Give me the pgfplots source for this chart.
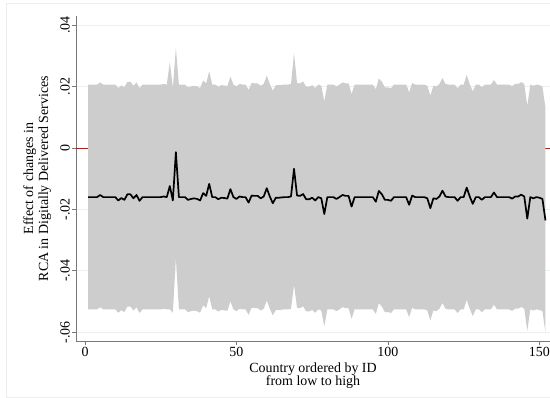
\documentclass[border=0pt]{standalone}
\usepackage{fontspec}
\setmainfont{Liberation Serif}
\usepackage{pgfplots}
\pgfplotsset{compat=1.18}
\usepackage{pgfplotstable}
\usepgfplotslibrary{fillbetween}
\definecolor{bandgray}{RGB}{205,205,205}
\definecolor{gridc}{RGB}{232,241,242}
\definecolor{axisc}{RGB}{120,120,120}

\pgfplotstableread{
i mean lo hi
1 -0.0160 -0.0525 0.0206
2 -0.0160 -0.0525 0.0206
3 -0.0160 -0.0525 0.0206
4 -0.0160 -0.0525 0.0206
5 -0.0153 -0.0518 0.0213
6 -0.0160 -0.0525 0.0206
7 -0.0160 -0.0525 0.0206
8 -0.0160 -0.0525 0.0206
9 -0.0160 -0.0525 0.0206
10 -0.0160 -0.0525 0.0206
11 -0.0171 -0.0536 0.0195
12 -0.0163 -0.0528 0.0203
13 -0.0169 -0.0534 0.0197
14 -0.0151 -0.0516 0.0215
15 -0.0151 -0.0516 0.0215
16 -0.0164 -0.0529 0.0202
17 -0.0153 -0.0518 0.0213
18 -0.0172 -0.0537 0.0194
19 -0.0160 -0.0525 0.0206
20 -0.0160 -0.0525 0.0206
21 -0.0160 -0.0525 0.0206
22 -0.0160 -0.0525 0.0206
23 -0.0160 -0.0525 0.0206
24 -0.0160 -0.0525 0.0206
25 -0.0160 -0.0525 0.0206
26 -0.0158 -0.0523 0.0208
27 -0.0160 -0.0525 0.0206
28 -0.0124 -0.0525 0.0279
29 -0.0171 -0.0536 0.0195
30 -0.0014 -0.0358 0.0325
31 -0.0160 -0.0525 0.0206
32 -0.0160 -0.0525 0.0206
33 -0.0160 -0.0525 0.0206
34 -0.0169 -0.0534 0.0197
35 -0.0166 -0.0531 0.0200
36 -0.0164 -0.0529 0.0202
37 -0.0166 -0.0531 0.0200
38 -0.0171 -0.0536 0.0195
39 -0.0147 -0.0512 0.0219
40 -0.0156 -0.0521 0.0210
41 -0.0117 -0.0482 0.0249
42 -0.0160 -0.0525 0.0206
43 -0.0160 -0.0525 0.0206
44 -0.0167 -0.0532 0.0199
45 -0.0162 -0.0527 0.0204
46 -0.0163 -0.0528 0.0203
47 -0.0165 -0.0530 0.0201
48 -0.0134 -0.0499 0.0232
49 -0.0160 -0.0525 0.0206
50 -0.0166 -0.0531 0.0200
51 -0.0158 -0.0523 0.0208
52 -0.0160 -0.0525 0.0206
53 -0.0160 -0.0525 0.0206
54 -0.0178 -0.0543 0.0188
55 -0.0155 -0.0520 0.0211
56 -0.0156 -0.0521 0.0210
57 -0.0156 -0.0521 0.0210
58 -0.0164 -0.0529 0.0202
59 -0.0158 -0.0523 0.0208
60 -0.0131 -0.0496 0.0235
61 -0.0158 -0.0523 0.0208
62 -0.0180 -0.0545 0.0186
63 -0.0162 -0.0527 0.0204
64 -0.0162 -0.0527 0.0204
65 -0.0161 -0.0526 0.0205
66 -0.0160 -0.0525 0.0206
67 -0.0160 -0.0525 0.0206
68 -0.0158 -0.0523 0.0208
69 -0.0068 -0.0446 0.0308
70 -0.0155 -0.0520 0.0211
71 -0.0156 -0.0521 0.0210
72 -0.0150 -0.0515 0.0216
73 -0.0167 -0.0532 0.0199
74 -0.0167 -0.0532 0.0199
75 -0.0162 -0.0527 0.0204
76 -0.0171 -0.0536 0.0195
77 -0.0160 -0.0525 0.0206
78 -0.0164 -0.0529 0.0202
79 -0.0215 -0.0580 0.0151
80 -0.0160 -0.0525 0.0206
81 -0.0160 -0.0525 0.0206
82 -0.0160 -0.0525 0.0206
83 -0.0166 -0.0531 0.0200
84 -0.0160 -0.0525 0.0206
85 -0.0153 -0.0518 0.0213
86 -0.0156 -0.0521 0.0210
87 -0.0156 -0.0521 0.0210
88 -0.0191 -0.0556 0.0175
89 -0.0160 -0.0525 0.0206
90 -0.0160 -0.0525 0.0206
91 -0.0160 -0.0525 0.0206
92 -0.0160 -0.0525 0.0206
93 -0.0160 -0.0525 0.0206
94 -0.0160 -0.0525 0.0206
95 -0.0160 -0.0525 0.0206
96 -0.0175 -0.0540 0.0191
97 -0.0140 -0.0505 0.0226
98 -0.0151 -0.0516 0.0215
99 -0.0169 -0.0534 0.0197
100 -0.0169 -0.0534 0.0197
101 -0.0172 -0.0537 0.0194
102 -0.0160 -0.0525 0.0206
103 -0.0160 -0.0525 0.0206
104 -0.0160 -0.0525 0.0206
105 -0.0160 -0.0525 0.0206
106 -0.0160 -0.0525 0.0206
107 -0.0185 -0.0550 0.0181
108 -0.0155 -0.0520 0.0211
109 -0.0160 -0.0525 0.0206
110 -0.0160 -0.0525 0.0206
111 -0.0160 -0.0525 0.0206
112 -0.0160 -0.0525 0.0206
113 -0.0164 -0.0529 0.0202
114 -0.0196 -0.0561 0.0170
115 -0.0164 -0.0529 0.0202
116 -0.0166 -0.0531 0.0200
117 -0.0158 -0.0523 0.0208
118 -0.0139 -0.0504 0.0227
119 -0.0158 -0.0523 0.0208
120 -0.0160 -0.0525 0.0206
121 -0.0160 -0.0525 0.0206
122 -0.0160 -0.0525 0.0206
123 -0.0172 -0.0537 0.0194
124 -0.0160 -0.0525 0.0206
125 -0.0160 -0.0525 0.0206
126 -0.0129 -0.0494 0.0237
127 -0.0158 -0.0523 0.0208
128 -0.0182 -0.0547 0.0184
129 -0.0160 -0.0525 0.0206
130 -0.0160 -0.0525 0.0206
131 -0.0169 -0.0534 0.0197
132 -0.0160 -0.0525 0.0206
133 -0.0160 -0.0525 0.0206
134 -0.0160 -0.0525 0.0206
135 -0.0145 -0.0510 0.0221
136 -0.0160 -0.0525 0.0206
137 -0.0160 -0.0525 0.0206
138 -0.0160 -0.0525 0.0206
139 -0.0160 -0.0525 0.0206
140 -0.0160 -0.0525 0.0206
141 -0.0165 -0.0530 0.0201
142 -0.0158 -0.0523 0.0208
143 -0.0158 -0.0523 0.0208
144 -0.0152 -0.0517 0.0214
145 -0.0158 -0.0523 0.0208
146 -0.0230 -0.0595 0.0136
147 -0.0160 -0.0525 0.0206
148 -0.0164 -0.0529 0.0202
149 -0.0160 -0.0525 0.0206
150 -0.0162 -0.0527 0.0204
151 -0.0166 -0.0531 0.0200
152 -0.0236 -0.0601 0.0130
}\data

\begin{document}
\begin{tikzpicture}
\begin{axis}[
  scale only axis, width=474bp, height=325bp,
  at={(0,0)}, anchor=south west,
  xmin=-2.97, xmax=153.5, ymin=-0.0628, ymax=0.0429,
  scaled y ticks=false, scaled x ticks=false,
  axis x line*=bottom, axis y line*=left,
  axis line style={-, draw=axisc, line width=0.9bp},
  tick align=outside, major tick length=4bp,
  tick style={draw=axisc, line width=0.8bp},
  xtick={0,50,100,150}, xticklabels={0,50,100,150},
  ytick={-0.06,-0.04,-0.02,0,0.02,0.04},
  yticklabels={-.06,-.04,-.02,0,.02,.04},
  ymajorgrids, grid style={draw=gridc, line width=0.8bp},
  tick label style={font=\fontsize{14}{16}\selectfont},
  yticklabel style={rotate=90, anchor=south, inner sep=2bp},
  xticklabel style={anchor=north, inner sep=2bp},
  xlabel={Country ordered by ID\\from low to high},
  xlabel style={align=center, font=\fontsize{14}{13}\selectfont,
    at={(axis description cs:0.5,-0.068)}, anchor=north, inner sep=0pt},
  ylabel={Effect of changes in\\RCA in Digitally Delivered Services},
  ylabel style={align=center, font=\fontsize{14}{15}\selectfont,
    at={(axis description cs:-0.052,0.5)}, anchor=south, inner sep=0pt},
  fill between/on layer=main,
]
\addplot[red, line width=0.8bp] coordinates {(-2.97,0) (153.5,0)};
\addplot[name path=hi, draw=none, forget plot] table[x=i, y=hi] {\data};
\addplot[name path=lo, draw=none, forget plot] table[x=i, y=lo] {\data};
\addplot[fill=bandgray, draw=none] fill between[of=hi and lo];
\addplot[black, line width=1.7bp, line join=round] table[x=i, y=mean] {\data};
\end{axis}
\draw[black!7, line width=0.8bp] (-70bp,-56bp) rectangle (480bp,338bp);
\pgfresetboundingbox
\useasboundingbox (-76bp,-57bp) rectangle (474bp,341bp);
\end{tikzpicture}
\end{document}
